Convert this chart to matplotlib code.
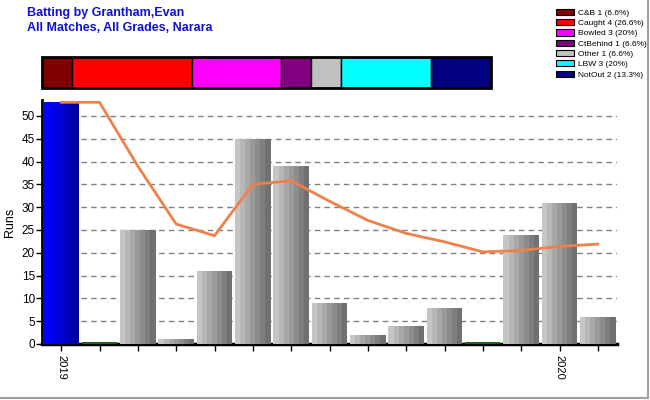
import matplotlib
matplotlib.use("Agg")
import matplotlib.pyplot as plt
import numpy as np
from matplotlib.patches import Patch
from matplotlib.lines import Line2D

plt.rcParams['font.family'] = ['Liberation Sans', 'DejaVu Sans']

# ---- data ----
runs = [53, 0, 25, 1, 16, 45, 39, 9, 2, 4, 8, 0, 24, 31, 6]
running_avg = [53, 53, 39, 26.3, 23.75, 35, 35.8, 31.3, 27.1, 24.25, 22.4, 20.2, 20.5, 21.4, 21.9]
xtick_labels = ["2019", "", "", "", "", "", "", "", "", "", "", "", "", "2020", ""]
highlight_index = 0

dismissal_names = ["C&B", "Caught", "Bowled", "CtBehind", "Other", "LBW", "NotOut"]
dismissal_counts = [1, 4, 3, 1, 1, 3, 2]
dismissal_pcts = ["6.6%", "26.6%", "20%", "6.6%", "6.6%", "20%", "13.3%"]
dismissal_colors = ["#800000", "#ff0000", "#ff00ff", "#800080", "#c0c0c0", "#00ffff", "#000080"]

title_lines = ["Batting by Grantham,Evan", "All Matches, All Grades, Narara"]

W, H = 650, 400
fig = plt.figure(figsize=(6.5, 4.0), dpi=100)

def fx(px):
    return px / W

def fy(py):
    return 1 - py / H

# main axes
ax = fig.add_axes([fx(42), fy(344), fx(617) - fx(42), fy(100) - fy(344)])
x = np.arange(len(runs))
bw = 0.92
nstripe = 7
gray_cols = [plt.cm.gray(v) for v in np.linspace(0.77, 0.44, nstripe)]
blue_cols = [(0, 0, b) for b in np.linspace(1.0, 0.62, nstripe)]
sw = bw / nstripe
for i, v in enumerate(runs):
    if v == 0:
        ax.bar(x[i], 0.35, width=bw, color="#1f5f1f", zorder=3)
        continue
    cols = blue_cols if i == highlight_index else gray_cols
    for k in range(nstripe):
        ax.bar(x[i] - bw / 2 + sw * (k + 0.5), v, width=sw * 1.02, color=cols[k],
               linewidth=0, zorder=3)

ax.plot(x, running_avg, color="#f0804a", lw=2, zorder=5, solid_joinstyle='miter')

ax.set_xlim(-0.5, 14.5)
ax.set_ylim(0, 53.5)
ax.set_yticks(np.arange(0, 51, 5))
ax.set_xticks(x)
ax.set_xticklabels(xtick_labels, rotation=-90, fontsize=8)
ax.tick_params(axis='y', labelsize=8.5, length=4, width=1, pad=1)
ax.tick_params(axis='x', length=5, width=1, pad=3)
for yv in np.arange(5, 51, 5):
    ax.axhline(yv, color="#808080", lw=1, ls=(0, (4, 3)), zorder=1)
for s in ["top", "right"]:
    ax.spines[s].set_visible(False)
ax.spines["left"].set_linewidth(2)
ax.spines["bottom"].set_linewidth(2.5)
ax.set_ylabel("Runs", fontsize=9, labelpad=4)

# dismissal stacked bar
ax2 = fig.add_axes([fx(42), fy(88), fx(491) - fx(42), fy(57) - fy(88)])
left = 0
for c, col in zip(dismissal_counts, dismissal_colors):
    ax2.barh(0, c, left=left, color=col, edgecolor="black", linewidth=1, height=1)
    left += c
ax2.set_xlim(0, sum(dismissal_counts))
ax2.set_ylim(-0.5, 0.5)
ax2.axis("off")
ax2.add_patch(plt.Rectangle((0, -0.5), sum(dismissal_counts), 1, fill=False,
                            edgecolor="black", lw=2, clip_on=False))

# legend
handles = [Patch(facecolor=col, edgecolor="black", linewidth=0.8) for col in dismissal_colors]
labels = [f"{n} {c} ({p})" for n, c, p in zip(dismissal_names, dismissal_counts, dismissal_pcts)]
fig.legend(handles, labels, loc="upper left", bbox_to_anchor=(fx(550), fy(3)),
           fontsize=6, frameon=False, handlelength=2.2, handleheight=0.75,
           labelspacing=0.28, handletextpad=0.5, borderpad=0.2)

# titles
fig.text(fx(27), fy(13), title_lines[0], color="#1010d0", fontsize=9, fontweight="bold",
         va="center", ha="left")
fig.text(fx(27), fy(28), title_lines[1], color="#1010d0", fontsize=9, fontweight="bold",
         va="center", ha="left")

# figure border (right & bottom)
fig.add_artist(Line2D([fx(648), fx(648)], [fy(0), fy(398)], color="#a0a0a0", lw=1.5))
fig.add_artist(Line2D([0, fx(648)], [fy(398), fy(398)], color="#a0a0a0", lw=1.5))

fig.savefig("out.png", dpi=100)
